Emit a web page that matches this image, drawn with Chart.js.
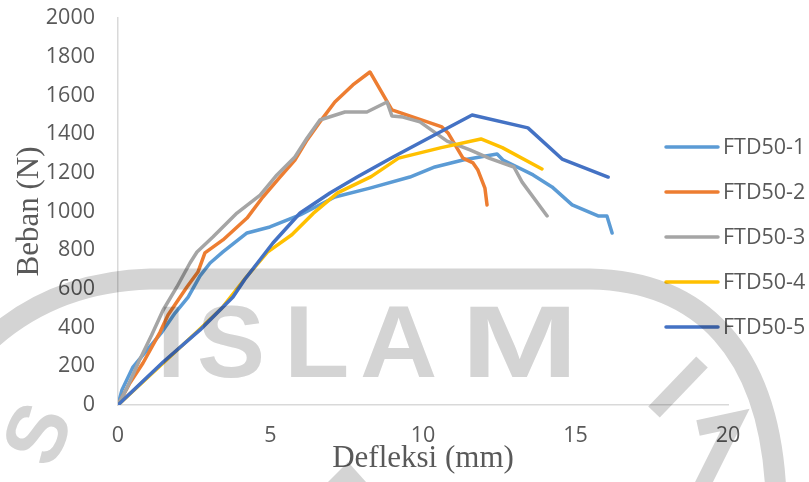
<!DOCTYPE html>
<html>
<head>
<meta charset="utf-8">
<script src="https://cdn.jsdelivr.net/npm/chart.js@4/dist/chart.umd.min.js"></script>
<style>
  html, body { margin: 0; padding: 0; background: #ffffff; }
  #wrap { width: 809px; height: 482px; position: relative; }
</style>
</head>
<body>
<div id="wrap"><canvas id="chart" width="809" height="482"></canvas></div>
<script>
// Load–deflection readings for the five FTD50 specimens
const seriesNames = ['FTD50-1', 'FTD50-2', 'FTD50-3', 'FTD50-4', 'FTD50-5'];

const ftd1X = [0, 0.13, 0.49, 0.95, 1.44, 1.87, 2.30, 2.69, 3.02, 3.44, 4.23, 4.98, 5.97, 7.11, 8.26, 9.57, 10.39, 11.31, 11.87, 12.43, 12.62, 13.61, 14.23, 14.89, 15.74, 16.03, 16.20];
const ftd1Y = [0, 78, 196, 284, 377, 475, 558, 667, 734, 791, 889, 920, 982, 1075, 1121, 1178, 1230, 1266, 1282, 1297, 1266, 1189, 1127, 1034, 977, 977, 889];

const ftd2X = [0, 0.39, 0.82, 1.38, 1.64, 2.26, 2.62, 2.85, 3.44, 4.23, 4.75, 5.31, 5.80, 6.20, 6.62, 7.11, 7.70, 8.26, 8.98, 10.62, 10.82, 11.31, 11.64, 11.80, 12.03, 12.10];
const ftd2Y = [0, 114, 217, 377, 465, 610, 687, 786, 853, 966, 1075, 1178, 1266, 1370, 1463, 1566, 1654, 1721, 1525, 1437, 1406, 1276, 1251, 1214, 1121, 1034];

const ftd3X = [0, 0.3, 0.7, 1.1, 1.48, 1.93, 2.36, 2.59, 3.11, 3.90, 4.66, 5.21, 5.80, 6.20, 6.62, 7.44, 8.16, 8.82, 8.98, 9.34, 9.90, 10.79, 11.54, 12.16, 12.98, 13.25, 14.07];
const ftd3Y = [0, 90, 230, 360, 491, 610, 734, 791, 868, 992, 1085, 1189, 1282, 1380, 1473, 1514, 1514, 1566, 1494, 1488, 1463, 1364, 1318, 1276, 1230, 1152, 977];

const ftd4X = [0, 1.5, 2.6, 3.4, 4.2, 4.9, 5.7, 6.4, 7.2, 8.3, 9.2, 10.6, 11.9, 12.6, 13.9];
const ftd4Y = [0, 220, 380, 500, 660, 790, 880, 990, 1096, 1180, 1276, 1330, 1375, 1330, 1220];

const ftd5X = [0, 1.48, 2.69, 3.77, 4.16, 5.08, 5.97, 6.95, 7.84, 9.02, 10.56, 11.61, 13.44, 14.56, 16.07];
const ftd5Y = [0, 222, 388, 558, 650, 837, 992, 1096, 1178, 1282, 1411, 1499, 1432, 1271, 1178];

const seriesX = [ftd1X, ftd2X, ftd3X, ftd4X, ftd5X];
const seriesY = [ftd1Y, ftd2Y, ftd3Y, ftd4Y, ftd5Y];
const colors = ['#5B9BD5', '#ED7D31', '#A5A5A5', '#FFC000', '#4472C4'];

const xTicks = [0, 5, 10, 15, 20];
const yTicks = [0, 200, 400, 600, 800, 1000, 1200, 1400, 1600, 1800, 2000];

const tickFont = "'Open Sans', 'Noto Sans', sans-serif";
const tickSize = 21.5;
const titleFont = "'Liberation Serif', 'Times New Roman', serif";
const textColor = '#595959';

const datasets = seriesNames.map((name, i) => ({
  label: name,
  data: seriesX[i].map((x, k) => ({ x: x, y: seriesY[i][k] })),
  borderColor: colors[i],
  backgroundColor: colors[i],
  borderWidth: 3.5,
  borderCapStyle: 'round',
  borderJoinStyle: 'round',
  pointRadius: 0,
  pointHoverRadius: 0,
  showLine: true,
  fill: false,
  tension: 0,
  order: seriesNames.length - i
}));

// Legend on the right, overlapping the plot edge
const sideLegend = {
  id: 'sideLegend',
  afterDraw(chart) {
    const ctx = chart.ctx;
    ctx.save();
    ctx.font = tickSize + 'px ' + tickFont;
    ctx.textBaseline = 'middle';
    ctx.textAlign = 'left';
    chart.data.datasets.forEach((ds, i) => {
      const y = 147 + i * 45;
      ctx.strokeStyle = ds.borderColor;
      ctx.lineWidth = 3.5;
      ctx.lineCap = 'round';
      ctx.beginPath();
      ctx.moveTo(666, y);
      ctx.lineTo(718, y);
      ctx.stroke();
      ctx.fillStyle = textColor;
      ctx.fillText(ds.label, 723, y + 1);
    });
    ctx.restore();
  }
};

// Faint university seal printed across the page
const seal = {
  id: 'seal',
  afterDraw(chart) {
    const ctx = chart.ctx;
    ctx.save();
    ctx.globalCompositeOperation = 'multiply';
    const g = 'rgb(212,212,212)';
    ctx.strokeStyle = g;
    ctx.fillStyle = g;

    // outer ring band
    ctx.lineWidth = 21;
    ctx.lineCap = 'butt';
    ctx.beginPath();
    ctx.moveTo(-30, 360);
    ctx.quadraticCurveTo(40, 282, 150, 279);
    ctx.lineTo(590, 279);
    ctx.bezierCurveTo(700, 281, 770, 350, 776, 495);
    ctx.stroke();

    // central word, letters set individually
    ctx.font = 'bold 102px "Liberation Sans", Arial, sans-serif';
    ctx.textBaseline = 'alphabetic';
    ctx.textAlign = 'left';
    const letters = ['I', 'S', 'L', 'A', 'M'];
    const lx = [157, 197, 284, 360, 461];
    const sx = [1, 1, 1.05, 1.05, 1.38];
    letters.forEach((c, i) => {
      ctx.save();
      ctx.translate(lx[i], 377);
      ctx.scale(sx[i], 1);
      ctx.fillText(c, 0, 0);
      ctx.restore();
    });

    // lettering along the ring
    ctx.save();
    ctx.translate(42, 436);
    ctx.rotate(-1.15);
    ctx.font = 'bold 84px "Liberation Sans", Arial, sans-serif';
    ctx.textAlign = 'center';
    ctx.textBaseline = 'middle';
    ctx.fillText('S', 0, 0);
    ctx.restore();

    ctx.lineWidth = 16;
    ctx.beginPath();
    ctx.moveTo(702, 362);
    ctx.lineTo(654, 412);
    ctx.stroke();
    ctx.beginPath();
    ctx.moveTo(698, 428);
    ctx.lineTo(735, 420);
    ctx.lineTo(700, 490);
    ctx.stroke();

    ctx.beginPath();
    ctx.moveTo(348, 462);
    ctx.lineTo(328, 482);
    ctx.lineTo(366, 482);
    ctx.closePath();
    ctx.fill();

    ctx.restore();
  }
};

new Chart(document.getElementById('chart'), {
  type: 'scatter',
  data: { datasets: datasets },
  options: {
    responsive: false,
    animation: false,
    events: [],
    layout: { padding: { top: 18, right: 81, bottom: 0, left: 0 } },
    plugins: {
      legend: { display: false },
      tooltip: { enabled: false }
    },
    scales: {
      x: {
        type: 'linear',
        min: 0,
        max: 20,
        afterBuildTicks(scale) { scale.ticks = xTicks.map(v => ({ value: v })); },
        afterFit(scale) { scale.height = 77; },
        grid: { display: false, drawTicks: false },
        border: { display: true, color: '#D9D9D9', width: 1.5 },
        ticks: {
          padding: 18,
          color: textColor,
          font: { family: tickFont, size: tickSize },
          maxRotation: 0,
          callback: v => String(v)
        },
        title: {
          display: true,
          text: 'Defleksi (mm)',
          color: textColor,
          font: { family: titleFont, size: 31 },
          padding: { top: 0, bottom: 5 }
        }
      },
      y: {
        type: 'linear',
        min: 0,
        max: 2000,
        afterBuildTicks(scale) { scale.ticks = yTicks.map(v => ({ value: v })); },
        afterFit(scale) {
          scale.width = 118;
          scale.paddingTop = 12;
          scale.paddingBottom = 12;
        },
        grid: { display: false, drawTicks: false },
        border: { display: true, color: '#D9D9D9', width: 1.5 },
        ticks: {
          padding: 23,
          color: textColor,
          font: { family: tickFont, size: tickSize },
          callback: v => String(v)
        },
        title: {
          display: true,
          text: 'Beban (N)',
          color: textColor,
          font: { family: titleFont, size: 31 },
          padding: { top: 11, bottom: 0 }
        }
      }
    }
  },
  plugins: [sideLegend, seal]
});
</script>
</body>
</html>
